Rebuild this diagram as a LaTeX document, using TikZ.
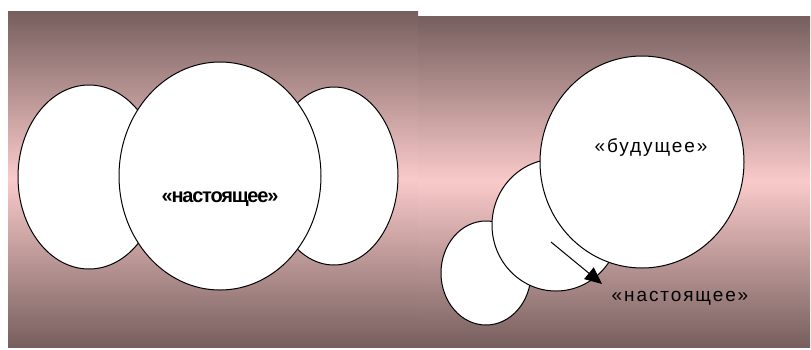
\documentclass[tikz,border=0pt]{standalone}
\usepackage{fontspec}
\setmainfont{Liberation Sans}
\usetikzlibrary{shapes.geometric,arrows.meta}
\definecolor{bgdark}{RGB}{118,95,94}
\definecolor{bglight}{RGB}{250,202,202}
\tikzset{
  panel/.style={shading=axis, top color=bgdark, bottom color=bgdark, middle color=bglight, draw=none},
  ell/.style={ellipse, draw=black, line width=1pt, fill=white, inner sep=0pt},
  lbl/.style={font=\fontsize{19}{22}\selectfont, text=black, inner sep=0pt}
}
\begin{document}
\begin{tikzpicture}[x=1pt,y=-1pt]
\useasboundingbox (0,0) rectangle (811,349);
% panels
\path[panel] (8,11) rectangle (418,347);
\path[panel] (418,16) rectangle (810,347);
% left panel
\node[ell, minimum width=142, minimum height=184] (pastL) at (89,177) {};
\node[ell, minimum width=128, minimum height=178] (futL) at (334,176) {};
\node[ell, minimum width=202, minimum height=228] (presL) at (220,176) {};
\node[font=\bfseries\fontsize{20}{23}\selectfont, inner sep=0pt] (presLt) at (220,199) {\addfontfeature{LetterSpace=-6}«настоящее»};
% right panel
\node[ell, minimum width=90, minimum height=104] (smallR) at (486,273) {};
\node[ell, minimum width=128, minimum height=132] (midR) at (556,225) {};
\node[ell, minimum width=204, minimum height=212] (bigR) at (642,162) {};
\node[lbl] (futR) at (651,147) {\addfontfeature{LetterSpace=10}«будущее»};
\node[lbl] (presR) at (680,298) {\addfontfeature{LetterSpace=10}«настоящее»};
\coordinate (arrS) at (551,242);
\coordinate (arrE) at (602,284);
\draw[line width=1pt, -{Triangle[length=17pt,width=15pt]}] (arrS) -- (arrE);
\end{tikzpicture}
\end{document}
